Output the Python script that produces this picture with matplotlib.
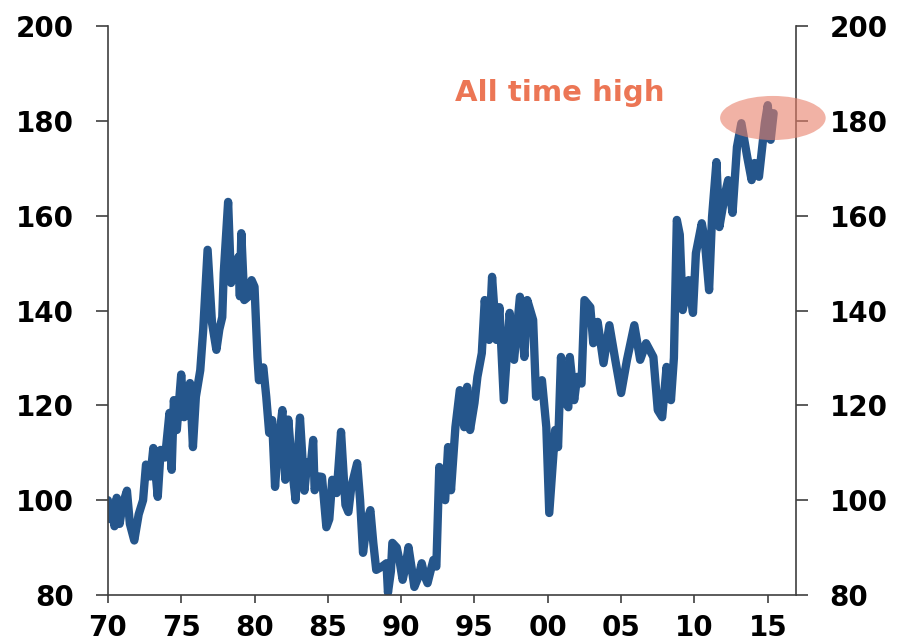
import numpy as np
import matplotlib.pyplot as plt
from matplotlib.patches import Ellipse

# index level, read at irregular dates (decimal years)
years = [
    1970.0, 1970.15, 1970.3, 1970.45, 1970.6, 1970.8, 1971.0, 1971.3, 1971.5, 1971.8,
    1972.1, 1972.4, 1972.6, 1972.9, 1973.1, 1973.4, 1973.6, 1973.9, 1974.2, 1974.35,
    1974.5, 1974.7, 1975.0, 1975.2, 1975.4, 1975.6, 1975.8, 1976.0, 1976.3, 1976.5,
    1976.8, 1977.1, 1977.4, 1977.6, 1977.8, 1977.9, 1978.2, 1978.4, 1978.6, 1978.9,
    1979.0, 1979.1, 1979.3, 1979.6, 1979.8, 1980.0, 1980.2, 1980.3, 1980.6, 1980.8,
    1981.0, 1981.2, 1981.4, 1981.6, 1981.9, 1982.1, 1982.3, 1982.6, 1982.8, 1983.1,
    1983.4, 1983.6, 1983.8, 1984.0, 1984.1, 1984.4, 1984.6, 1984.9, 1985.1, 1985.3,
    1985.6, 1985.9, 1986.2, 1986.4, 1986.6, 1987.0, 1987.2, 1987.4, 1987.7, 1987.9,
    1988.1, 1988.3, 1988.7, 1989.0, 1989.1, 1989.3, 1989.4, 1989.7, 1989.9, 1990.1,
    1990.3, 1990.5, 1990.7, 1990.9, 1991.2, 1991.4, 1991.6, 1991.8, 1992.0, 1992.2,
    1992.4, 1992.6, 1992.8, 1993.0, 1993.2, 1993.4, 1993.7, 1994.0, 1994.3, 1994.5,
    1994.7, 1995.0, 1995.2, 1995.5, 1995.7, 1996.0, 1996.2, 1996.5, 1996.7, 1997.0,
    1997.4, 1997.7, 1998.1, 1998.4, 1998.6, 1999.0, 1999.2, 1999.6, 1999.9, 2000.1,
    2000.5, 2000.7, 2000.9, 2001.1, 2001.4, 2001.5, 2001.8, 2002.0, 2002.3, 2002.5,
    2002.9, 2003.1, 2003.4, 2003.8, 2004.2, 2004.6, 2005.0, 2005.4, 2005.9, 2006.3,
    2006.7, 2007.2, 2007.5, 2007.8, 2008.1, 2008.4, 2008.6, 2008.8, 2009.0, 2009.2,
    2009.6, 2009.9, 2010.1, 2010.5, 2010.7, 2011.0, 2011.2, 2011.5, 2011.7, 2012.1,
    2012.3, 2012.6, 2012.9, 2013.2, 2013.6, 2013.9, 2014.1, 2014.4, 2014.8, 2015.0,
    2015.2, 2015.4,
]
values = [
    100, 96, 99, 94.5, 100.5, 95, 99, 102, 95, 91.5,
    97, 100, 107.5, 105, 111, 100.7, 110.6, 109, 118.4, 106.4,
    121.1, 114.8, 126.5, 117.5, 120, 124.7, 111.2, 121.8, 127.4, 135.9,
    152.8, 137.4, 131.7, 136, 138.6, 147.9, 162.9, 145.8, 148, 151.3,
    143, 156.3, 142.2, 143, 146.4, 145, 130.2, 125.3, 128, 121.8,
    114.2, 116.9, 102.8, 111.2, 119, 104.3, 117, 105.7, 100, 117.4,
    102, 108, 106.3, 112.7, 102.1, 105, 104.9, 94.3, 96, 104.3,
    101.5, 114.4, 99, 97.5, 102.8, 107.8, 100, 88.9, 96, 97.9,
    91, 85.3, 86, 86.7, 80.5, 85, 91, 90, 87, 83.2,
    86, 90.1, 86, 81.7, 84, 86.7, 84, 82.5, 85, 87.4,
    86, 107, 102, 100, 111.2, 102.1, 115.4, 123.2, 115.4, 123.9,
    114.8, 120.5, 126, 131, 142.2, 133.8, 147.1, 133.8, 140.7, 121.1,
    139.5, 129.6, 142.9, 130.2, 142.2, 138, 121.8, 125.3, 115.4, 97.3,
    114.8, 111.2, 130.2, 121.1, 119.6, 130.2, 121.1, 126, 124.6, 142.2,
    140.7, 133.1, 137.6, 128.9, 136.9, 129.6, 122.6, 129.6, 136.9, 129.6,
    133.1, 130.2, 119, 117.5, 128.1, 121.1, 130, 159.1, 156, 140.1,
    146.4, 139.5, 152.1, 158.4, 154.9, 144.3, 159.7, 171.3, 157.6, 164.8,
    167.5, 160.6, 174.5, 179.5, 172.4, 167.5, 171.1, 168.2, 179.5, 183.3,
    176, 181.6,
]

tick_years = [1970, 1975, 1980, 1985, 1990, 1995, 2000, 2005, 2010, 2015]
tick_labels = ["70", "75", "80", "85", "90", "95", "00", "05", "10", "15"]
y_ticks = [80, 100, 120, 140, 160, 180, 200]

LINE = "#25568c"
SPINE = "#404040"
NOTE = "#ec7655"

plt.rcParams["font.family"] = "DejaVu Sans"
plt.rcParams["font.weight"] = "bold"

fig = plt.figure(figsize=(8.99, 6.42), dpi=100)
ax = fig.add_axes([0.120, 0.0732, 0.765, 0.8863])

ax.plot(years, values, color=LINE, lw=6, solid_capstyle="round",
        solid_joinstyle="round", zorder=2)

ax.set_xlim(1970, 2016.9)
ax.set_ylim(80, 200)
ax.set_xticks(tick_years)
ax.set_xticklabels(tick_labels)
ax.set_yticks(y_ticks)

ax.spines["top"].set_visible(False)
for side in ["left", "right", "bottom"]:
    ax.spines[side].set_color(SPINE)
    ax.spines[side].set_linewidth(1.2)

ax.tick_params(axis="y", which="both", direction="out", length=8.5,
               width=1.2, color=SPINE, labelsize=20, pad=16,
               left=True, right=True, labelleft=True, labelright=True)
ax.tick_params(axis="x", direction="out", length=6, width=1.2,
               color=SPINE, labelsize=20, pad=8)

# highlight the recent peak
ell = Ellipse((2015.35, 180.6), 7.2, 9.3, facecolor="#e8806a",
              edgecolor="none", alpha=0.6, clip_on=False, zorder=3)
ax.add_patch(ell)
ax.text(2000.8, 185.9, "All time high", color=NOTE, fontsize=21,
        fontweight="bold", ha="center", va="center")

fig.savefig("out.png", dpi=100)
